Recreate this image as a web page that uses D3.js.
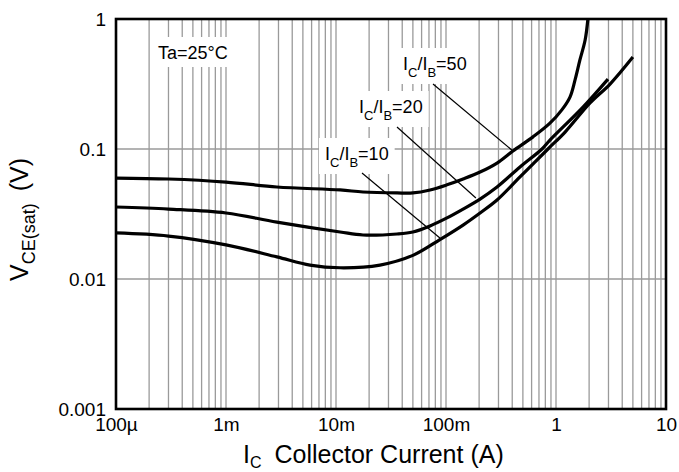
<!DOCTYPE html>
<html>
<head>
<meta charset="utf-8">
<script src="https://cdn.jsdelivr.net/npm/d3@7"></script>
<style>
body{margin:0;background:#fff;}
svg text{font-family:"Liberation Sans",Arial,sans-serif;fill:#000;}
</style>
</head>
<body>
<div id="chart"></div>
<script>
// collector current (A) / Vce(sat) (V)
var current50=[1e-4,3e-4,1e-3,2.9e-3,0.0109,0.0176,0.0359,0.05,0.0716,0.102,0.143,0.204,0.291,0.406,0.618,0.881,1.13,1.34,1.49,1.65,1.84,1.95];
var vce50=[0.0598,0.0588,0.0557,0.051,0.0484,0.0467,0.0459,0.0459,0.0484,0.053,0.0588,0.0665,0.078,0.0965,0.124,0.158,0.2,0.251,0.34,0.484,0.689,1.0];

var current20=[1e-4,3e-4,1e-3,2.9e-3,0.0109,0.0176,0.0359,0.05,0.0716,0.102,0.143,0.204,0.291,0.471,0.746,0.881,1.76,2.97];
var vce20=[0.0358,0.0345,0.0322,0.0274,0.023,0.0218,0.0222,0.023,0.0256,0.0295,0.0345,0.0412,0.051,0.0727,0.1,0.117,0.21,0.345];

var current10=[1e-4,3e-4,1e-3,2.9e-3,5.8e-3,0.0109,0.0251,0.05,0.088,0.143,0.204,0.291,0.471,0.845,1.21,2.04,3.1,5.0];
var vce10=[0.0226,0.0214,0.0183,0.0148,0.0128,0.0122,0.0128,0.0152,0.0201,0.026,0.0322,0.0405,0.061,0.1,0.135,0.226,0.316,0.51];

var xTickValues=[1e-4,1e-3,1e-2,1e-1,1,10];
var xTickLabels=["100\u00b5","1m","10m","100m","1","10"];
var yTickValues=[0.001,0.01,0.1,1];
var yTickLabels=["0.001","0.01","0.1","1"];

var ratios=["50","20","10"];

var W=679,H=472;
var margin={left:116,right:13,top:19,bottom:63};
var width=W-margin.left-margin.right;
var height=H-margin.top-margin.bottom;

var svg=d3.select('#chart').append('svg')
    .attr('width',W)
    .attr('height',H);
var g=svg.append('g')
    .attr('transform','translate('+margin.left+','+margin.top+')');

var x=d3.scaleLog().domain([1e-4,10]).range([0,width]);
var y=d3.scaleLog().domain([0.001,1]).range([height,0]);

// grid: every 1..9 step on x, decades only on y
g.append('g').selectAll('line')
    .data(x.ticks().filter(function(d){return d>1e-4&&d<10;}))
    .enter().append('line')
    .attr('x1',function(d){return x(d);})
    .attr('x2',function(d){return x(d);})
    .attr('y1',0).attr('y2',height)
    .attr('stroke','#9a9a9a').attr('stroke-width',1.3);
g.append('g').selectAll('line')
    .data([0.01,0.1])
    .enter().append('line')
    .attr('x1',0).attr('x2',width)
    .attr('y1',function(d){return y(d);})
    .attr('y2',function(d){return y(d);})
    .attr('stroke','#9a9a9a').attr('stroke-width',1.3);

// axes labels
var xAxis=d3.axisBottom(x).tickValues(xTickValues)
    .tickFormat(function(d,i){return xTickLabels[i];})
    .tickSize(0).tickPadding(9);
var gx=g.append('g').attr('transform','translate(0,'+height+')').call(xAxis);
var yAxis=d3.axisLeft(y).tickValues(yTickValues)
    .tickFormat(function(d,i){return yTickLabels[i];})
    .tickSize(0).tickPadding(10);
var gy=g.append('g').call(yAxis);
[gx,gy].forEach(function(a){
    a.select('.domain').remove();
    a.selectAll('text').attr('font-size',19).attr('font-family','"Liberation Sans",Arial,sans-serif').attr('fill','#000');
});

// annotation labels with white boxes
function subLabel(sel,px,py,parts){
    var t=sel.append('text').attr('x',px).attr('y',py).attr('font-size',18);
    parts.forEach(function(p){
        var ts=t.append('tspan').text(p[0]);
        if(p[1]==='sub'){ts.attr('font-size',13).attr('dy',7);}
        if(p[1]==='up'){ts.attr('dy',-7);}
    });
    return t;
}
var ann=g.append('g');
var labels=[
    {px:42,py:40,parts:[["Ta=25\u00b0C"]]},
    {px:287,py:51,parts:[["I"],["C","sub"],["/","up"],["I"],["B","sub"],["=50","up"]]},
    {px:243,py:94,parts:[["I"],["C","sub"],["/","up"],["I"],["B","sub"],["=20","up"]]},
    {px:209,py:141,parts:[["I"],["C","sub"],["/","up"],["I"],["B","sub"],["=10","up"]]}
];
labels.forEach(function(l){
    var bgr=ann.append('rect').attr('fill','#fff');
    var t=subLabel(ann,l.px,l.py,l.parts);
    var bb=t.node().getBBox();
    bgr.attr('x',bb.x-6).attr('y',bb.y-6).attr('width',bb.width+12).attr('height',bb.height+10);
});

// leader lines: start under label, end on its curve
var leaders=[
    {sx:317,sy:65,cx:0.406,cy:0.0965},
    {sx:281,sy:108,cx:0.187,cy:0.042},
    {sx:246,sy:154,cx:0.088,cy:0.0207}
];
g.append('g').selectAll('line')
    .data(leaders)
    .enter().append('line')
    .attr('x1',function(d){return d.sx;})
    .attr('y1',function(d){return d.sy;})
    .attr('x2',function(d){return x(d.cx);})
    .attr('y2',function(d){return y(d.cy);})
    .attr('stroke','#000').attr('stroke-width',1.2);

// curves
var series=[
    {name:ratios[0],xs:current50,ys:vce50},
    {name:ratios[1],xs:current20,ys:vce20},
    {name:ratios[2],xs:current10,ys:vce10}
];
var line=d3.line()
    .x(function(d){return x(d[0]);})
    .y(function(d){return y(d[1]);})
    .curve(d3.curveCatmullRom.alpha(0.5));
g.append('g').selectAll('path')
    .data(series)
    .enter().append('path')
    .attr('d',function(s){return line(d3.zip(s.xs,s.ys));})
    .attr('fill','none')
    .attr('stroke','#000')
    .attr('stroke-width',3.2);

// frame
g.append('rect')
    .attr('x',0).attr('y',0)
    .attr('width',width).attr('height',height)
    .attr('fill','none').attr('stroke','#000').attr('stroke-width',2.6);

// axis titles
var xt=svg.append('text')
    .attr('x',243).attr('y',463)
    .attr('font-size',25);
xt.append('tspan').text('I');
xt.append('tspan').text('C').attr('font-size',16).attr('dy',5);
xt.append('tspan').text('Collector Current (A)').attr('dy',-5).attr('dx',13);

var yt=svg.append('text')
    .attr('transform','translate(28,281) rotate(-90)')
    .attr('font-size',25);
yt.append('tspan').text('V');
yt.append('tspan').text('CE(sat)').attr('font-size',18).attr('dy',7);
yt.append('tspan').text('(V)').attr('dy',-7).attr('dx',12);
</script>
</body>
</html>
